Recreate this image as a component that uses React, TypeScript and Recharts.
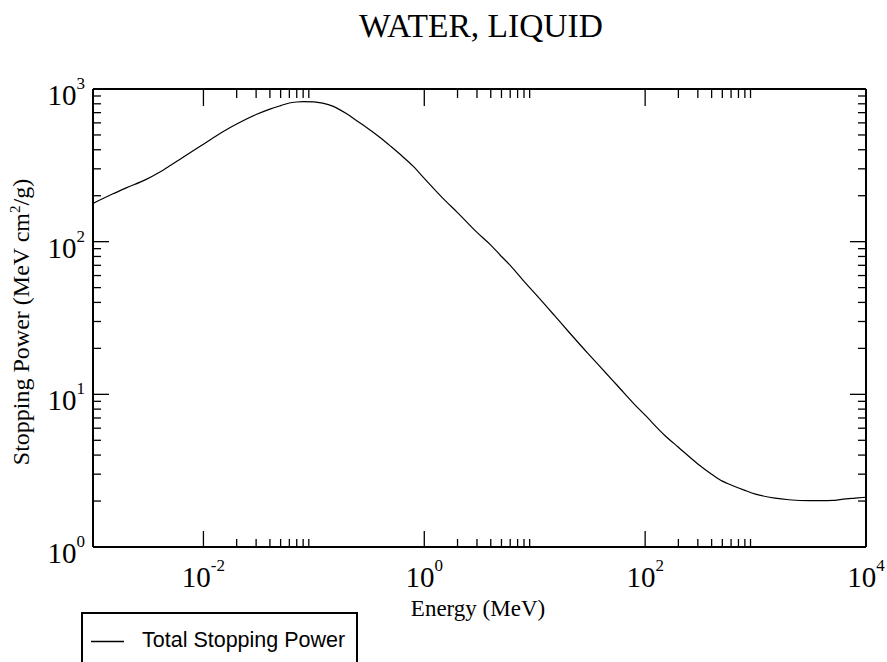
import { LineChart, Line, XAxis, YAxis } from "recharts";

// Proton total stopping power in liquid water
const energyMeV = [
  0.001, 0.0015, 0.002, 0.003, 0.004, 0.005, 0.006, 0.008, 0.01, 0.015, 0.02, 0.03, 0.04, 0.05, 0.06,
  0.07, 0.08, 0.1, 0.12, 0.15, 0.2, 0.25, 0.3, 0.4, 0.5, 0.6, 0.8, 1, 1.5, 2, 3, 4, 5, 6, 8, 10, 15,
  20, 30, 40, 50, 60, 80, 100, 150, 200, 300, 400, 500, 600, 800, 1000, 1500, 2000, 3000, 4000, 5000,
  6000, 8000, 10000,
];
const totalStoppingPower = [
  178, 205, 225, 255, 285, 315, 343, 392, 435, 525, 590, 680, 738, 778, 810,
  822, 827, 824, 808, 770, 685, 612, 560, 480, 420, 375, 310, 260, 190, 155, 115, 95, 80, 70, 55, 46, 33,
  26, 18.7, 14.9, 12.5, 10.8, 8.6, 7.3, 5.4, 4.5, 3.5, 3.0, 2.7, 2.55, 2.35, 2.22, 2.09, 2.04, 2.01, 2.01, 2.02,
  2.05, 2.09, 2.12,
];

// tick layout (log axes): majors plus 2..9 minors in selected decades
const xMajorTicks = [0.01, 1, 100, 10000];
const xMinorDecades = [0.01, 1, 100];
const yMajorTicks = [1, 10, 100, 1000];
const yMinorDecades = [1, 10, 100];
const minorSteps = [2, 3, 4, 5, 6, 7, 8, 9];
const xLabelExponents = ["-2", "0", "2", "4"];
const yLabelExponents = ["0", "1", "2", "3"];

const data = energyMeV.map((e, i) => ({ energy: e, total: totalStoppingPower[i] }));

const withMinors = (majors: number[], decades: number[]) =>
  [...majors, ...decades.flatMap(d => minorSteps.map(s => +(d * s).toPrecision(3)))].sort((a, b) => a - b);

const xTicks = withMinors(xMajorTicks, xMinorDecades);
const yTicks = withMinors(yMajorTicks, yMinorDecades);

const SERIF = "'Liberation Serif', 'Times New Roman', serif";
const SANS = "'Liberation Sans', Arial, sans-serif";

const exponent = (v: number) => Math.round(Math.log10(v));
const isMajor = (v: number) => Math.abs(Math.log10(v) - exponent(v)) < 1e-6;

const MAJOR = 16;
const MINOR = 8;

const BottomTick = ({ x, y, payload }: any) => {
  const v = payload.value;
  const major = isMajor(v);
  const exp = String(exponent(v));
  return (
    <g>
      <line x1={x} x2={x} y1={y} y2={y - (major ? MAJOR : MINOR)} stroke="#000" strokeWidth={1.3} />
      {major && xLabelExponents.includes(exp) && (
        <text x={x} y={y + 40} textAnchor="middle" fontFamily={SERIF} fontSize={29} fill="#000">
          10<tspan dy={-16} fontSize={17}>{exp}</tspan>
        </text>
      )}
    </g>
  );
};

// top axis sits 1px above the plot, so ticks start one pixel lower
const TopTick = ({ x, y, payload }: any) => {
  const major = isMajor(payload.value);
  return <line x1={x} x2={x} y1={y + 1} y2={y + 1 + (major ? MAJOR : MINOR)} stroke="#000" strokeWidth={1.3} />;
};

const LeftTick = ({ x, y, payload }: any) => {
  const v = payload.value;
  const major = isMajor(v);
  const exp = String(exponent(v));
  return (
    <g>
      <line x1={x} x2={x + (major ? MAJOR : MINOR)} y1={y} y2={y} stroke="#000" strokeWidth={1.3} />
      {major && yLabelExponents.includes(exp) && (
        <text x={x - 8} y={y + 16} textAnchor="end" fontFamily={SERIF} fontSize={29} fill="#000">
          10<tspan dy={-16} fontSize={17}>{exp}</tspan>
        </text>
      )}
    </g>
  );
};

const RightTick = ({ x, y, payload }: any) => {
  const major = isMajor(payload.value);
  return <line x1={x} x2={x - (major ? MAJOR : MINOR)} y1={y} y2={y} stroke="#000" strokeWidth={1.3} />;
};

const frame = { stroke: "#000", strokeWidth: 2 };

export default function App() {
  return (
    <div style={{ position: "absolute", left: 0, top: 0, width: 887, height: 662, background: "#fff", overflow: "hidden" }}>
      <LineChart width={887} height={662} data={data} margin={{ top: 89, right: 21, bottom: 55, left: 0 }}>
        <XAxis
          dataKey="energy"
          type="number"
          scale="log"
          domain={[0.001, 10000]}
          allowDataOverflow
          ticks={xTicks}
          interval={0}
          height={60}
          tickLine={false}
          tickSize={0}
          tickMargin={0}
          axisLine={frame}
          tick={<BottomTick />}
        />
        <XAxis
          xAxisId="top"
          orientation="top"
          dataKey="energy"
          type="number"
          scale="log"
          domain={[0.001, 10000]}
          allowDataOverflow
          ticks={xTicks}
          interval={0}
          height={1}
          mirror
          tickLine={false}
          tickSize={0}
          tickMargin={0}
          axisLine={frame}
          tick={<TopTick />}
        />
        <YAxis
          type="number"
          scale="log"
          domain={[1, 1000]}
          allowDataOverflow
          ticks={yTicks}
          interval={0}
          width={93}
          tickLine={false}
          tickSize={0}
          tickMargin={0}
          axisLine={frame}
          tick={<LeftTick />}
        />
        <YAxis
          yAxisId="right"
          orientation="right"
          type="number"
          scale="log"
          domain={[1, 1000]}
          allowDataOverflow
          ticks={yTicks}
          interval={0}
          width={1}
          mirror
          tickLine={false}
          tickSize={0}
          tickMargin={0}
          axisLine={frame}
          tick={<RightTick />}
        />
        <Line
          type="monotone"
          dataKey="total"
          stroke="#000"
          strokeWidth={1.2}
          dot={false}
          activeDot={false}
          isAnimationActive={false}
        />
      </LineChart>
      <svg width={887} height={662} style={{ position: "absolute", left: 0, top: 0, pointerEvents: "none" }}>
        <text x={481} y={37} textAnchor="middle" fontFamily={SERIF} fontSize={33.5} fill="#000">
          WATER, LIQUID
        </text>
        <text x={478} y={616} textAnchor="middle" fontFamily={SERIF} fontSize={23} fill="#000">
          Energy (MeV)
        </text>
        <text x={29} y={322} transform="rotate(-90 29 322)" textAnchor="middle" fontFamily={SERIF} fontSize={24} fill="#000">
          Stopping Power (MeV cm<tspan dy={-9} fontSize={15}>2</tspan>
          <tspan dy={9}>/g)</tspan>
        </text>
        <rect x={82} y={613} width={275} height={70} fill="none" stroke="#000" strokeWidth={2} />
        <line x1={91} x2={124} y1={641.5} y2={641.5} stroke="#000" strokeWidth={1.3} />
        <text x={142} y={647} fontFamily={SANS} fontSize={21.5} fill="#000">
          Total Stopping Power
        </text>
      </svg>
    </div>
  );
}
